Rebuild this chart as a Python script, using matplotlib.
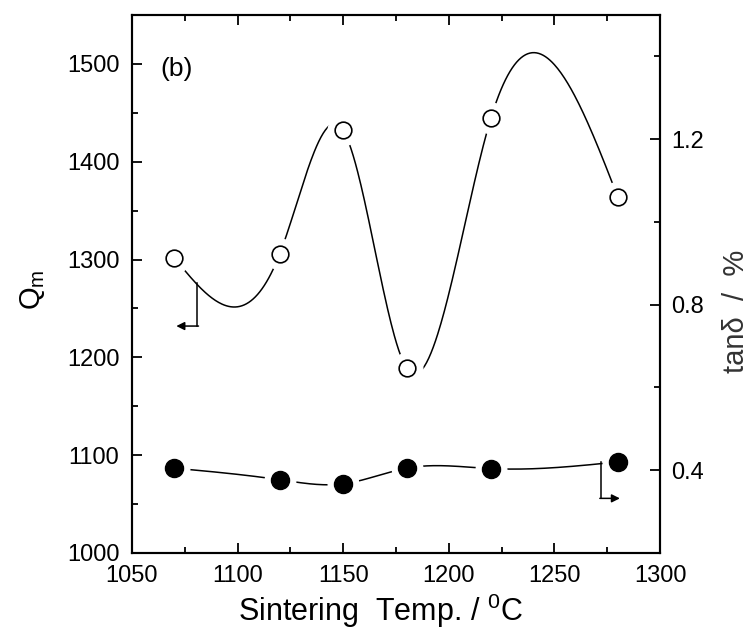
import numpy as np
import matplotlib
matplotlib.use('Agg')
import matplotlib.pyplot as plt
from matplotlib.ticker import MultipleLocator

plt.rcParams['font.family'] = ['Liberation Sans', 'DejaVu Sans']
plt.rcParams['mathtext.fontset'] = 'custom'
plt.rcParams['mathtext.rm'] = 'Liberation Sans'
plt.rcParams['mathtext.it'] = 'Liberation Sans'

# sintering temperature (°C)
temps = [1070, 1120, 1150, 1180, 1220, 1280]
# mechanical quality factor Qm (open circles, left axis)
qm = [1302, 1306, 1432, 1189, 1445, 1364]
# loss tangent tan delta in % (filled circles, right axis)
tan_d = [0.405, 0.377, 0.367, 0.405, 0.404, 0.420]


def natural_spline(x, y, n=400):
    # plain natural cubic spline through the points, used only to draw the guide line
    x = np.asarray(x, float)
    y = np.asarray(y, float)
    h = np.diff(x)
    k = len(x)
    A = np.zeros((k, k))
    b = np.zeros(k)
    A[0, 0] = A[-1, -1] = 1
    for i in range(1, k - 1):
        A[i, i - 1] = h[i - 1]
        A[i, i] = 2 * (h[i - 1] + h[i])
        A[i, i + 1] = h[i]
        b[i] = 6 * ((y[i + 1] - y[i]) / h[i] - (y[i] - y[i - 1]) / h[i - 1])
    M = np.linalg.solve(A, b)
    xx = np.linspace(x[0], x[-1], n)
    idx = np.clip(np.searchsorted(x, xx) - 1, 0, k - 2)
    x0, x1 = x[idx], x[idx + 1]
    hh = x1 - x0
    yy = (M[idx] * (x1 - xx) ** 3 / (6 * hh) + M[idx + 1] * (xx - x0) ** 3 / (6 * hh)
          + (y[idx] / hh - M[idx] * hh / 6) * (x1 - xx)
          + (y[idx + 1] / hh - M[idx + 1] * hh / 6) * (xx - x0))
    return xx, yy


fig = plt.figure(figsize=(7.52, 6.33), dpi=100)
ax = fig.add_axes([0.1755, 0.1264, 0.7022, 0.8499])
ax2 = ax.twinx()

lw = 1.1
# Qm curve
sx, sy = natural_spline(temps, qm)
ax.plot(sx, sy, color='black', lw=lw, zorder=1)
ax.plot(temps, qm, 'o', ms=22, mfc='white', mec='white', zorder=2)
ax.plot(temps, qm, 'o', ms=12, mfc='white', mec='black', mew=1.2, zorder=3)

# tan delta curve
tx, ty = natural_spline(temps, tan_d)
ax2.plot(tx, ty, color='black', lw=lw, zorder=1)
ax2.plot(temps, tan_d, 'o', ms=22, mfc='white', mec='white', zorder=2)
ax2.plot(temps, tan_d, 'o', ms=13, mfc='black', mec='black', zorder=3)

# axis pointers
ax.plot([1081, 1081], [1276, 1232], color='black', lw=lw, zorder=1)
ax.annotate('', xy=(1071, 1232), xytext=(1081.5, 1232),
            arrowprops=dict(arrowstyle='-|>', color='black', lw=lw,
                            mutation_scale=12, shrinkA=0, shrinkB=0))
ax2.plot([1272, 1272], [0.419, 0.332], color='black', lw=lw, zorder=1)
ax2.annotate('', xy=(1281, 0.332), xytext=(1271.5, 0.332),
             arrowprops=dict(arrowstyle='-|>', color='black', lw=lw,
                             mutation_scale=12, shrinkA=0, shrinkB=0))

ax.set_xlim(1050, 1300)
ax.set_ylim(1000, 1550)
ax2.set_ylim(0.2, 1.5)

ax.xaxis.set_major_locator(MultipleLocator(50))
ax.xaxis.set_minor_locator(MultipleLocator(25))
ax.yaxis.set_major_locator(MultipleLocator(100))
ax.yaxis.set_minor_locator(MultipleLocator(50))
ax2.yaxis.set_minor_locator(MultipleLocator(0.2))
ax2.set_yticks([0.4, 0.8, 1.2])
ax2.set_yticklabels(['0.4', '0.8', '1.2'])

ax.tick_params(which='both', direction='in', top=True, labelsize=17, width=1.3)
ax.tick_params(axis='x', pad=9)
ax.tick_params(axis='y', pad=9)
ax.tick_params(which='major', length=7)
ax.tick_params(which='minor', length=4)
ax2.tick_params(which='both', direction='in', labelsize=17, width=1.3, pad=8)
ax2.tick_params(which='major', length=7)
ax2.tick_params(which='minor', length=4)

for a in (ax, ax2):
    for s in a.spines.values():
        s.set_linewidth(1.5)

ax.set_xlabel(r'Sintering  Temp. / $^\mathregular{0}$C', fontsize=22)
ax.xaxis.set_label_coords(0.47, -0.072)
ax.set_ylabel(r'Q$_\mathregular{m}$', fontsize=21)
ax.yaxis.set_label_coords(-0.16, 0.49)
ax2.set_ylabel('tanδ  /  %', fontsize=21, color='#333333')
ax2.yaxis.set_label_coords(1.118, 0.45)
ax.text(0.053, 0.9, '(b)', transform=ax.transAxes, fontsize=19, va='center')

fig.savefig('out.png', dpi=100)
